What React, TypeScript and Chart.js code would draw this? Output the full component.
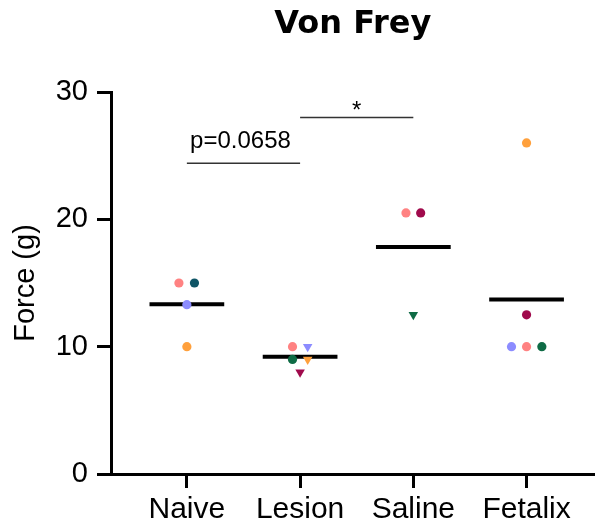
import React, { useEffect, useRef } from 'react';
import { Chart, registerables } from 'chart.js';

Chart.register(...registerables);

const FONT = '"Liberation Sans", Arial, Helvetica, sans-serif';

// Categories
const groups = ['Naive', 'Lesion', 'Saline', 'Fetalix'];
const yTicks = [0, 10, 20, 30];

// Individual animals: group index, value (g), horizontal jitter (category units), colour, marker
const pointGroup = [0, 0, 0, 0, 1, 1, 1, 1, 1, 2, 2, 2, 3, 3, 3, 3, 3];
const pointValue = [15, 15, 13.3, 10, 10, 10, 9, 9, 8, 20.5, 20.5, 12.5, 26, 12.5, 10, 10, 10];
const pointJitter = [-0.07, 0.067, 0, 0, -0.067, 0.067, -0.067, 0.067, 0, -0.065, 0.065, 0, 0, 0, -0.133, 0, 0.135];
const PINK = '#FF8282';
const TEAL = '#0F5566';
const LAV = '#8C8CFF';
const ORANGE = '#FFA03C';
const GREEN = '#0F6B45';
const MAROON = '#A00A4C';
const pointColor = [
  PINK, TEAL, LAV, ORANGE,
  PINK, LAV, GREEN, ORANGE, MAROON,
  PINK, MAROON, GREEN,
  ORANGE, MAROON, LAV, PINK, GREEN,
];
const pointShape = [
  'circle', 'circle', 'circle', 'circle',
  'circle', 'triangle', 'circle', 'triangle', 'triangle',
  'circle', 'circle', 'triangle',
  'circle', 'circle', 'circle', 'circle', 'circle',
];

// Significance comparisons
const compFrom = [1, 2];
const compTo = [2, 3];
const compY = [24.4, 28];
const compLabel = ['p=0.0658', '*'];

const MEAN_HALF = 0.33;

export default function App() {
  const ref = useRef<HTMLCanvasElement | null>(null);

  useEffect(() => {
    document.body.style.margin = '0';
    const canvas = ref.current;
    if (!canvas) return;

    const means = groups.map((_, g) => {
      const vals = pointValue.filter((_, i) => pointGroup[i] === g);
      return vals.reduce((a, b) => a + b, 0) / vals.length;
    });

    const meanSets = means.map((m, g) => ({
      type: 'scatter' as const,
      data: [
        { x: g + 1 - MEAN_HALF, y: m },
        { x: g + 1 + MEAN_HALF, y: m },
      ],
      showLine: true,
      borderColor: '#000',
      borderWidth: 4,
      pointRadius: 0,
      order: 2,
    }));

    const compSets = compFrom.map((f, k) => ({
      type: 'scatter' as const,
      data: [
        { x: f, y: compY[k] },
        { x: compTo[k], y: compY[k] },
      ],
      showLine: true,
      borderColor: '#333',
      borderWidth: 1.5,
      pointRadius: 0,
      order: 3,
    }));

    const pointsSet = {
      type: 'scatter' as const,
      data: pointValue.map((v, i) => ({ x: pointGroup[i] + 1 + pointJitter[i], y: v })),
      backgroundColor: pointColor,
      borderColor: pointColor,
      borderWidth: 0,
      pointStyle: pointShape as any,
      pointRadius: pointShape.map((s) => (s === 'triangle' ? 5.5 : 4.6)),
      pointRotation: pointShape.map((s) => (s === 'triangle' ? 180 : 0)),
      order: 0,
    };

    const annotate = {
      id: 'annotate',
      afterDatasetsDraw(chart: any) {
        const { ctx } = chart;
        const xs = chart.scales.x;
        const ys = chart.scales.y;
        ctx.save();
        ctx.fillStyle = '#000';
        ctx.textAlign = 'center';
        ctx.textBaseline = 'alphabetic';
        compLabel.forEach((lab, k) => {
          const cx = (xs.getPixelForValue(compFrom[k]) + xs.getPixelForValue(compTo[k])) / 2;
          const by = ys.getPixelForValue(compY[k]);
          ctx.font = `24px ${FONT}`;
          if (lab === '*') {
            ctx.fillText(lab, cx, by + 1);
          } else {
            ctx.fillText(lab, cx - 3, by - 15);
          }
        });
        ctx.restore();
      },
    };

    const chart = new Chart(canvas, {
      type: 'scatter',
      data: { datasets: [pointsSet, ...meanSets, ...compSets] as any },
      plugins: [annotate],
      options: {
        animation: false,
        responsive: false,
        events: [],
        layout: { padding: { left: 0, right: 0, top: 0, bottom: 0 } },
        plugins: {
          legend: { display: false },
          tooltip: { enabled: false },
          title: {
            display: true,
            text: 'Von Frey',
            fullSize: false,
            color: '#000',
            font: { family: '"DejaVu Sans", Arial, sans-serif', weight: 'bold', size: 32 },
            padding: { top: 5, bottom: 48.6 },
          },
        },
        scales: {
          x: {
            type: 'linear',
            min: 0.33,
            max: 4.6,
            afterBuildTicks: (s: any) => {
              s.ticks = groups.map((_, i) => ({ value: i + 1 }));
            },
            afterFit: (s: any) => {
              s.height = 53;
            },
            ticks: {
              autoSkip: false,
              maxRotation: 0,
              color: '#000',
              padding: 4,
              font: { family: FONT, size: 30 },
              callback: (v: any) => groups[Math.round(Number(v)) - 1] ?? '',
            },
            grid: {
              drawOnChartArea: false,
              drawTicks: true,
              tickLength: 14,
              tickWidth: 3,
              tickColor: '#000',
            },
            border: { display: true, color: '#000', width: 3 },
          },
          y: {
            type: 'linear',
            min: 0,
            max: 30,
            afterBuildTicks: (s: any) => {
              s.ticks = yTicks.map((v) => ({ value: v }));
            },
            afterFit: (s: any) => {
              s.width = 111;
            },
            ticks: {
              color: '#000',
              padding: 9,
              font: { family: FONT, size: 29 },
            },
            grid: {
              drawOnChartArea: false,
              drawTicks: true,
              tickLength: 14,
              tickWidth: 3,
              tickColor: '#000',
            },
            border: { display: true, color: '#000', width: 3 },
            title: {
              display: true,
              text: 'Force (g)',
              color: '#000',
              font: { family: FONT, size: 29 },
              padding: { top: 9, bottom: 0 },
            },
          },
        },
      },
    });

    return () => chart.destroy();
  }, []);

  return (
    <div style={{ width: 600, height: 527 }}>
      <canvas ref={ref} width={600} height={527} />
    </div>
  );
}
